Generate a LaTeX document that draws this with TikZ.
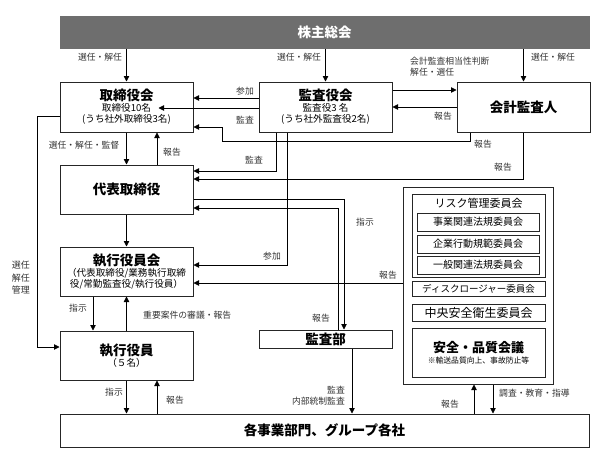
\documentclass[tikz,border=0pt]{standalone}
\usepackage{fontspec}
\setmainfont{Noto Sans CJK JP}
\usetikzlibrary{arrows.meta,calc}
\newcommand\ttlf{\bfseries\fontsize{13.5}{15}\selectfont}
\newcommand\subf{\fontsize{9.6}{11}\selectfont}
\newcommand\lblf{\fontsize{8.8}{11}\selectfont}
\newcommand\rkf{\fontsize{10}{12}\selectfont}
\definecolor{barg}{HTML}{6E6E6E}
\definecolor{txtg}{HTML}{333333}
\begin{document}
\begin{tikzpicture}[x=1pt,y=-1pt,
  box/.style={draw=black!85, line width=1pt, inner sep=0pt, align=center, font=\subf},
  arr/.style={-{Triangle[length=5.5pt,width=5.5pt]}, line width=0.8pt},
  ln/.style={line width=0.8pt},
  lbl/.style={font=\lblf, text=txtg, inner sep=0pt, align=center}]
\useasboundingbox (0,0) rectangle (608,464);

% main boxes
\node[box, fill=barg, draw=barg, minimum width=529pt, minimum height=32pt, text=white] (soukai) at (324.5,32) {\ttlf 株主総会};
\node[box, minimum width=133pt, minimum height=50pt] (tb) at (126.5,107) {{\ttlf 取締役会}\\[0pt]取締役10名\\(うち社外取締役3名)};
\node[box, minimum width=133pt, minimum height=50pt] (kb) at (325.5,107) {{\ttlf 監査役会}\\[0pt]監査役3 名\\(うち社外監査役2名)};
\node[box, minimum width=133pt, minimum height=50pt] (kk) at (523.5,107) {\ttlf 会計監査人};
\node[box, minimum width=133pt, minimum height=49pt] (dh) at (126.5,189.5) {\ttlf 代表取締役};
\node[box, minimum width=133pt, minimum height=49pt] (sk) at (126.5,271.5) {{\ttlf 執行役員会}\\[0pt]（代表取締役/業務執行取締\\役/常勤監査役/執行役員）};
\node[box, minimum width=133pt, minimum height=49pt] (sy) at (126.5,355.5) {{\ttlf 執行役員}\\[0pt]（５名）};
\node[box, minimum width=133pt, minimum height=18pt] (kbu) at (325.5,339) {\ttlf 監査部};
\node[box, minimum width=529pt, minimum height=33pt] (jg) at (324.5,430.5) {\ttlf 各事業部門、グループ各社};

% risk block
\node[box, minimum width=150pt, minimum height=197pt] (ro) at (478,285.5) {};
\node[box, minimum width=133pt, minimum height=83pt] (ri) at (478.5,235.5) {};
\node[inner sep=0pt, font=\fontsize{11}{13}\selectfont] (rt) at (478.5,203) {リスク管理委員会};
\node[box, minimum width=122pt, minimum height=18pt, font=\rkf] (r1) at (478,222) {事業関連法規委員会};
\node[box, minimum width=122pt, minimum height=18pt, font=\rkf] (r2) at (478,244) {企業行動規範委員会};
\node[box, minimum width=122pt, minimum height=18pt, font=\rkf] (r3) at (478,265) {一般関連法規委員会};
\node[box, minimum width=133pt, minimum height=15pt, font=\fontsize{9.5}{11}\selectfont] (r4) at (478.5,288.5) {ディスクロージャー委員会};
\node[box, minimum width=133pt, minimum height=17pt, font=\fontsize{12}{14}\selectfont] (r5) at (478.5,313) {中央安全衛生委員会};
\node[box, minimum width=133pt, minimum height=49pt] (r6) at (478.5,352.5) {{\bfseries\fontsize{13}{15}\selectfont 安全・品質会議}\\{\fontsize{7.8}{9}\selectfont ※輸送品質向上、事故防止等}};

% connectors from 株主総会
\draw[arr] (soukai.south -| tb.north) -- (tb.north);
\node[lbl] (l1) at (100,57) {選任・解任};
\draw[arr] (soukai.south -| kb.north) -- (kb.north);
\node[lbl] (l2) at (299,57) {選任・解任};
\draw[arr] (soukai.south -| kk.north) -- (kk.north);
\node[lbl] (l3) at (553,57) {選任・解任};

% 監査役会 <-> 会計監査人
\draw[arr] (kb.east |- 0,90) -- (kk.west |- 0,90);
\node[lbl, anchor=west, align=left] (l4) at (410,66.5) {会計監査相当性判断\\解任・選任};
\draw[arr] (kk.west |- 0,107) -- (kb.east |- 0,107);
\node[lbl] (l5) at (443,116) {報告};

% 監査役会 -> 取締役会
\draw[arr] (kb.west |- 0,98) -- (tb.east |- 0,98);
\node[lbl] (l6) at (245,91) {参加};
\draw[arr] (kb.west |- 0,108) -- ($(tb.east |- 0,108)+(-35,0)$);
\node[lbl] (l7) at (245,120) {監査};

% 会計監査人 -> 取締役会
\draw[arr] (kk.south -| 470,0) -- (470,141) -- (222,141) -- (222,127) -- (tb.east |- 0,127);
\node[lbl] (l8) at (483,144) {報告};

% 取締役会 <-> 代表取締役
\draw[arr] (tb.south) -- (dh.north);
\node[lbl] (l9) at (84,145) {選任・解任・監督};
\draw[arr] (dh.north -| 157,0) -- (tb.south -| 157,0);
\node[lbl] (l10) at (172,152) {報告};

% 監査役会 -> 代表取締役
\draw[arr] (kb.south -| 276,0) -- (276,171) -- (dh.east |- 0,171);
\node[lbl] (l11) at (254,160) {監査};
% 会計監査人 -> 代表取締役
\draw[arr] (kk.south) -- (kk.south |- 0,179) -- (dh.east |- 0,179);
\node[lbl] (l12) at (503,167) {報告};

% 代表取締役 -> 監査部
\draw[arr] (dh.east |- 0,199) -- (344,199) -- (kbu.north -| 344,0);
\node[lbl] (l13) at (365,222) {指示};
% 監査部 -> 代表取締役
\draw[arr] (kbu.north -| 338,0) -- (338,208) -- (dh.east |- 0,208);
\node[lbl] (l14) at (321,318) {報告};

% 監査役会 -> 執行役員会
\draw[arr] (kb.south -| 287,0) -- (287,265) -- (sk.east |- 0,265);
\node[lbl] (l15) at (272,256) {参加};
% risk -> 執行役員会
\draw[arr] (ro.west |- 0,283) -- (sk.east |- 0,283);
\node[lbl] (l16) at (388,275) {報告};

% 代表取締役 -> 執行役員会
\draw[arr] (dh.south) -- (sk.north);
% 執行役員会 <-> 執行役員
\draw[arr] (sk.south -| 93,0) -- (sy.north -| 93,0);
\node[lbl] (l17) at (78,308) {指示};
\draw[arr] (sy.north) -- (sk.south);
\node[lbl, anchor=west] (l18) at (143,315) {重要案件の審議・報告};

% 取締役会 -> 執行役員
\draw[arr] (tb.west |- 0,116) -- (37,116) -- (37,347) -- (sy.west |- 0,347);
\node[lbl, font=\fontsize{9}{12.5}\selectfont] (l19) at (21,278) {選任\\解任\\管理};

% 執行役員 <-> 各事業部門
\draw[arr] (sy.south) -- (jg.north -| sy.south);
\node[lbl] (l20) at (114,392) {指示};
\draw[arr] (jg.north -| 157,0) -- (sy.south -| 157,0);
\node[lbl] (l21) at (175,400) {報告};

% 監査部 -> 各事業部門
\draw[arr] (kbu.south -| 352,0) -- (jg.north -| 352,0);
\node[lbl, anchor=east, align=right] (l22) at (345,396) {監査\\内部統制監査};

% risk <-> 各事業部門
\draw[arr] (ro.south -| 493,0) -- (jg.north -| 493,0);
\node[lbl, anchor=west] (l23) at (499,393) {調査・教育・指導};
\draw[arr] (jg.north -| 474,0) -- (ro.south -| 474,0);
\node[lbl] (l24) at (450,404) {報告};
\end{tikzpicture}
\end{document}
